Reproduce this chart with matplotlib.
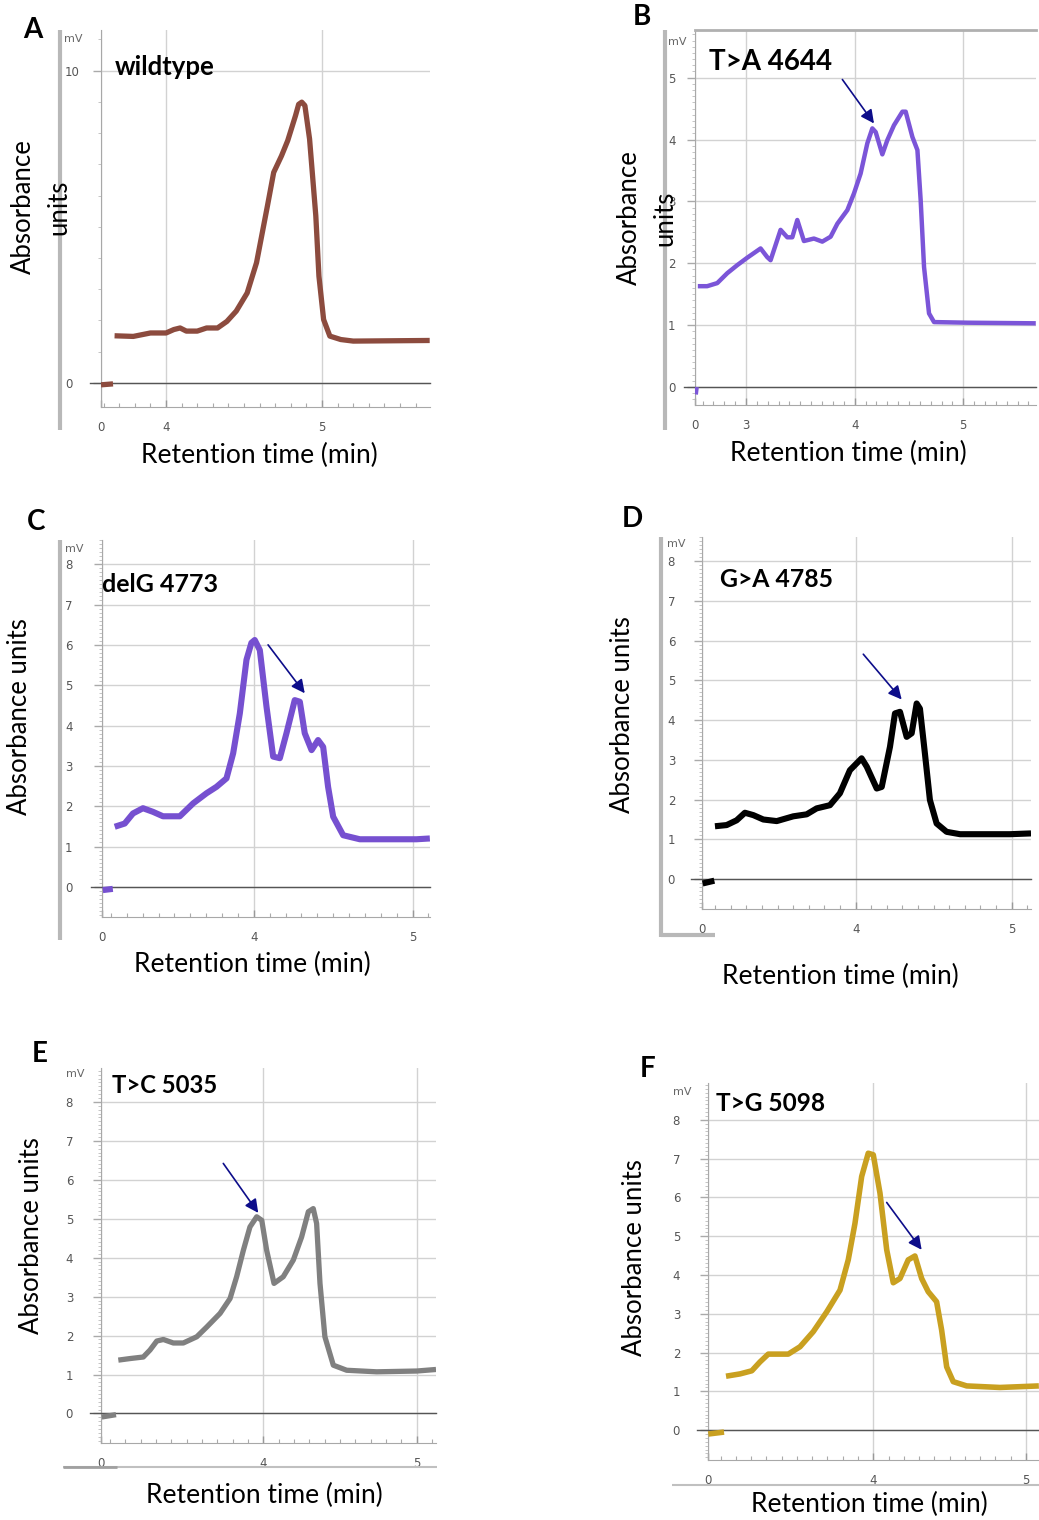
import matplotlib.pyplot as plt
from matplotlib.lines import Line2D
from matplotlib.ticker import MultipleLocator, FixedLocator

# figure size in pixels (saved at dpi=100)
W, H = 1039, 1520

plt.rcParams['font.family'] = ['Lato', 'DejaVu Sans']

# ---- values (time in min, signal in mV) ----
a_time = [3.67, 3.79, 3.90, 4.00, 4.05, 4.09, 4.13, 4.20, 4.26, 4.33, 4.39, 4.45, 4.52, 4.58, 4.65,
          4.69, 4.74, 4.78, 4.83, 4.85, 4.87, 4.89, 4.92, 4.96, 4.98, 5.01, 5.05, 5.12, 5.20, 5.69]
a_abs = [1.51, 1.49, 1.60, 1.60, 1.71, 1.76, 1.66, 1.66, 1.76, 1.76, 1.97, 2.30, 2.88, 3.85, 5.67,
         6.74, 7.27, 7.76, 8.56, 8.92, 8.99, 8.88, 7.81, 5.35, 3.42, 2.03, 1.50, 1.39, 1.34, 1.36]
a_stub_time = [3.583, 3.66]
a_stub_abs = [-0.06, -0.03]

b_time = [2.556, 2.642, 2.735, 2.827, 2.919, 3.011, 3.134, 3.195, 3.226, 3.318, 3.380, 3.426, 3.472,
          3.533, 3.625, 3.702, 3.779, 3.841, 3.933, 3.994, 4.055, 4.117, 4.163, 4.194, 4.255, 4.301,
          4.362, 4.440, 4.470, 4.532, 4.578, 4.608, 4.639, 4.685, 4.731, 5.039, 5.668]
b_abs = [1.63, 1.63, 1.68, 1.84, 1.97, 2.09, 2.24, 2.10, 2.05, 2.54, 2.42, 2.42, 2.70,
         2.36, 2.40, 2.35, 2.43, 2.64, 2.86, 3.13, 3.45, 3.94, 4.18, 4.12, 3.76, 3.99,
         4.23, 4.45, 4.45, 4.04, 3.83, 3.02, 1.94, 1.19, 1.05, 1.04, 1.03]
b_stub_time = [2.537, 2.545]
b_stub_abs = [-0.12, 0.0]

c_time = [3.124, 3.187, 3.239, 3.302, 3.365, 3.428, 3.534, 3.618, 3.702, 3.765, 3.828, 3.870, 3.912,
          3.954, 3.985, 4.006, 4.038, 4.080, 4.122, 4.164, 4.206, 4.258, 4.290, 4.321, 4.364, 4.405,
          4.437, 4.468, 4.500, 4.563, 4.668, 5.025, 5.109]
c_abs = [1.49, 1.57, 1.82, 1.95, 1.86, 1.75, 1.75, 2.07, 2.32, 2.48, 2.69, 3.31, 4.30,
         5.63, 6.05, 6.12, 5.87, 4.47, 3.23, 3.19, 3.81, 4.63, 4.59, 3.81, 3.39, 3.64,
         3.47, 2.48, 1.74, 1.28, 1.18, 1.18, 1.20]
c_stub_time = [3.049, 3.112]
c_stub_abs = [-0.08, -0.05]

d_time = [3.098, 3.173, 3.237, 3.290, 3.344, 3.408, 3.494, 3.600, 3.686, 3.750, 3.835, 3.899, 3.963,
          4.038, 4.071, 4.135, 4.167, 4.220, 4.252, 4.284, 4.327, 4.359, 4.391, 4.412, 4.444, 4.476,
          4.519, 4.583, 4.669, 4.989, 5.124]
d_abs = [1.33, 1.36, 1.48, 1.67, 1.61, 1.50, 1.46, 1.58, 1.63, 1.78, 1.86, 2.16, 2.74,
         3.04, 2.83, 2.28, 2.32, 3.33, 4.17, 4.21, 3.58, 3.67, 4.42, 4.29, 3.16, 1.99,
         1.40, 1.19, 1.13, 1.13, 1.15]
d_stub_time = [3.019, 3.094]
d_stub_abs = [-0.11, -0.04]

e_time = [3.054, 3.130, 3.217, 3.261, 3.305, 3.348, 3.413, 3.478, 3.566, 3.631, 3.718, 3.783, 3.826,
          3.870, 3.913, 3.957, 3.990, 4.022, 4.070, 4.130, 4.196, 4.250, 4.294, 4.326, 4.348, 4.370,
          4.402, 4.457, 4.544, 4.740, 5.001, 5.127]
e_abs = [1.37, 1.41, 1.45, 1.63, 1.86, 1.90, 1.81, 1.81, 1.97, 2.22, 2.57, 2.95, 3.51,
         4.19, 4.79, 5.05, 4.96, 4.19, 3.34, 3.51, 3.94, 4.53, 5.18, 5.26, 4.88, 3.34,
         1.97, 1.24, 1.11, 1.07, 1.09, 1.13]
e_stub_time = [2.946, 3.039]
e_stub_abs = [-0.09, -0.03]

f_time = [3.035, 3.127, 3.204, 3.258, 3.312, 3.367, 3.443, 3.520, 3.607, 3.695, 3.782, 3.836, 3.880,
          3.924, 3.967, 4.000, 4.044, 4.088, 4.131, 4.175, 4.229, 4.273, 4.317, 4.360, 4.415, 4.448,
          4.481, 4.524, 4.612, 4.830, 5.085]
f_abs = [1.39, 1.45, 1.53, 1.76, 1.96, 1.96, 1.96, 2.15, 2.54, 3.05, 3.61, 4.39, 5.33,
         6.54, 7.14, 7.10, 6.11, 4.65, 3.80, 3.91, 4.39, 4.49, 3.91, 3.57, 3.31, 2.58,
         1.63, 1.25, 1.14, 1.10, 1.14]
f_stub_time = [2.919, 3.022]
f_stub_abs = [-0.10, -0.05]

panel_letters = ['A', 'B', 'C', 'D', 'E', 'F']
variant_names = ['wildtype', 'T>A 4644', 'delG 4773', 'G>A 4785', 'T>C 5035', 'T>G 5098']
# arrows point at the variant peak: (tail time, tail mV, head time, head mV)
arrow_b = (3.887, 4.97, 4.178, 4.26)
arrow_c = (4.090, 6.00, 4.321, 4.80)
arrow_d = (4.049, 5.66, 4.295, 4.52)
arrow_e = (3.739, 6.42, 3.967, 5.15)
arrow_f = (4.088, 5.87, 4.317, 4.65)


def fx(px):
    return px / W


def fy(py):
    return 1 - py / H


def seg(p0, p1, color='#b8b8b8', lw=3.0):
    fig.add_artist(Line2D([fx(p0[0]), fx(p1[0])], [fy(p0[1]), fy(p1[1])],
                          transform=fig.transFigure, color=color, lw=lw, solid_capstyle='butt'))


fig = plt.figure(figsize=(W / 100, H / 100), dpi=100)

# layout of each screenshot panel (pixel boxes: left, top, right, bottom)
panels = [
    dict(t=a_time, v=a_abs, st=a_stub_time, sv=a_stub_abs, color='#8c4b3e', lw=3.8,
         box=(101, 30, 430, 407), xlim=(3.583, 5.692), ylim=(-0.77, 11.3),
         xmajor=[4, 5], ymajor=[0, 10], yminor=1.0, yoff=36,
         letter_xy=(23, 38), name_xy=(115, 75), name_size=18.5,
         ylab='Absorbance\nunits', ylab_xy=(41, 207), xlab_xy=(259, 455),
         mv_xy=(64, 42), arrow=None),
    dict(t=b_time, v=b_abs, st=b_stub_time, sv=b_stub_abs, color='#7b55d8', lw=3.2,
         box=(695, 30, 1036, 405), xlim=(2.53, 5.67), ylim=(-0.29, 5.77),
         xmajor=[3, 4, 5], ymajor=[0, 1, 2, 3, 4, 5], yminor=0.1, yoff=27,
         letter_xy=(633, 25), name_xy=(709, 70), name_size=20,
         ylab='Absorbance\nunits', ylab_xy=(647, 218), xlab_xy=(848, 453),
         mv_xy=(668, 45), arrow=arrow_b),
    dict(t=c_time, v=c_abs, st=c_stub_time, sv=c_stub_abs, color='#7650d0', lw=4.4,
         box=(101.7, 540, 430, 916.7), xlim=(3.042, 5.11), ylim=(-0.74, 8.6),
         xmajor=[4, 5], ymajor=list(range(9)), yminor=0.1, yoff=36.7,
         letter_xy=(27, 530), name_xy=(102, 591.7), name_size=18,
         ylab='Absorbance units', ylab_xy=(20, 717), xlab_xy=(252, 964),
         mv_xy=(65, 551.7), arrow=arrow_c),
    dict(t=d_time, v=d_abs, st=d_stub_time, sv=d_stub_abs, color='#000000', lw=4.4,
         box=(701.7, 537, 1031, 909.3), xlim=(3.013, 5.124), ylim=(-0.76, 8.61),
         xmajor=[4, 5], ymajor=list(range(9)), yminor=0.1, yoff=34,
         letter_xy=(622, 526.7), name_xy=(720, 587.3), name_size=17.8,
         ylab='Absorbance units', ylab_xy=(623, 715), xlab_xy=(840, 976),
         mv_xy=(667, 546.7), arrow=arrow_d),
    dict(t=e_time, v=e_abs, st=e_stub_time, sv=e_stub_abs, color='#808080', lw=3.8,
         box=(101, 1068, 436, 1442.7), xlim=(2.941, 5.127), ylim=(-0.75, 8.87),
         xmajor=[4, 5], ymajor=list(range(9)), yminor=0.1, yoff=35.3,
         letter_xy=(32, 1061.7), name_xy=(112, 1093.3), name_size=17.2,
         ylab='Absorbance units', ylab_xy=(32, 1236), xlab_xy=(264, 1495),
         mv_xy=(66, 1076.7), arrow=arrow_e),
    dict(t=f_time, v=f_abs, st=f_stub_time, sv=f_stub_abs, color='#c9a020', lw=4.0,
         box=(707.7, 1083, 1039, 1460), xlim=(2.915, 5.086), ylim=(-0.77, 8.95),
         xmajor=[4, 5], ymajor=list(range(9)), yminor=0.1, yoff=35,
         letter_xy=(640, 1076.7), name_xy=(716, 1110.7), name_size=17.6,
         ylab='Absorbance units', ylab_xy=(635, 1258), xlab_xy=(869, 1504),
         mv_xy=(673, 1095), arrow=arrow_f),
]

for i, p in enumerate(panels):
    l, t, r, b = p['box']
    ax = fig.add_axes([fx(l), fy(b), (r - l) / W, (b - t) / H])
    ax.set_xlim(*p['xlim'])
    ax.set_ylim(*p['ylim'])

    # traces
    ax.plot(p['t'], p['v'], color=p['color'], lw=p['lw'], zorder=4,
            solid_joinstyle='round', solid_capstyle='butt')
    ax.plot(p['st'], p['sv'], color=p['color'], lw=p['lw'], zorder=4, solid_capstyle='butt')
    ax.axhline(0, xmin=-11 / (r - l), xmax=1, color='#555555', lw=1.0, zorder=3, clip_on=False)

    # axes look of the HPLC software
    for side in ['top', 'right']:
        ax.spines[side].set_visible(False)
    if i == 1:
        ax.spines['top'].set_visible(True)
        ax.spines['top'].set_color('#b0b0b0')
        ax.spines['top'].set_linewidth(2)
    ax.spines['left'].set_color('#a8a8a8')
    ax.spines['bottom'].set_color('#a8a8a8')

    ax.xaxis.set_major_locator(FixedLocator([p['xlim'][0]] + p['xmajor']))
    ax.set_xticklabels(['0'] + [str(v) for v in p['xmajor']])
    ax.xaxis.set_minor_locator(MultipleLocator(0.1))
    ax.yaxis.set_major_locator(FixedLocator(p['ymajor']))
    ax.set_yticklabels([str(v) for v in p['ymajor']])
    ax.yaxis.set_minor_locator(MultipleLocator(p['yminor']))

    ax.tick_params(axis='x', which='major', direction='in', length=5, width=1, color='#999999',
                   pad=10, labelsize=8.5, labelcolor='#555555')
    ax.tick_params(axis='x', which='minor', direction='in', length=3, width=0.8, color='#aaaaaa')
    ax.tick_params(axis='y', which='major', direction='out', length=6, width=1, color='#aaaaaa',
                   pad=p['yoff'] * 0.72 - 6, labelsize=8.5, labelcolor='#555555')
    ax.tick_params(axis='y', which='minor', direction='out', length=2.5, width=0.6, color='#bbbbbb')
    for lab in ax.get_yticklabels() + ax.get_xticklabels():
        lab.set_fontfamily('DejaVu Sans')
    for lab in ax.get_yticklabels():
        lab.set_horizontalalignment('left')

    ax.grid(True, which='major', color='#d2d2d2', lw=1.0, zorder=1)
    ax.set_axisbelow(True)

    if p['arrow'] is not None:
        x0, y0, x1, y1 = p['arrow']
        ax.annotate('', xy=(x1, y1), xytext=(x0, y0), zorder=6,
                    arrowprops=dict(arrowstyle='-|>', color='#0d0d8a', lw=1.2,
                                    mutation_scale=20, shrinkA=0, shrinkB=0))

    # texts
    fig.text(fx(p['mv_xy'][0]), fy(p['mv_xy'][1]), 'mV', fontsize=8, color='#666666',
             family='DejaVu Sans', ha='left', va='baseline')
    fig.text(fx(p['letter_xy'][0]), fy(p['letter_xy'][1]), panel_letters[i], fontsize=20,
             fontweight='bold', ha='left', va='baseline')
    fig.text(fx(p['name_xy'][0]), fy(p['name_xy'][1]), variant_names[i], fontsize=p['name_size'],
             fontweight='bold', ha='left', va='baseline', zorder=10)
    fig.text(fx(p['ylab_xy'][0]), fy(p['ylab_xy'][1]), p['ylab'], fontsize=18.5, rotation=90,
             ha='center', va='center', linespacing=1.55, multialignment='center')
    fig.text(fx(p['xlab_xy'][0]), fy(p['xlab_xy'][1]), 'Retention time (min)', fontsize=19,
             ha='center', va='center')

# screenshot frame edges
seg((60, 30), (60, 430))
seg((665, 30), (665, 430))
seg((60, 540), (60, 940))
seg((661, 537), (661, 937))
seg((661, 935), (715, 935))
seg((63, 1467), (437, 1467), color='#c0c0c0', lw=1.5)
seg((63, 1467), (117, 1467), color='#a0a0a0', lw=2)
seg((672, 1485), (1039, 1485), color='#c0c0c0', lw=1.5)

fig.savefig('out.png', dpi=100)
plt.close(fig)
